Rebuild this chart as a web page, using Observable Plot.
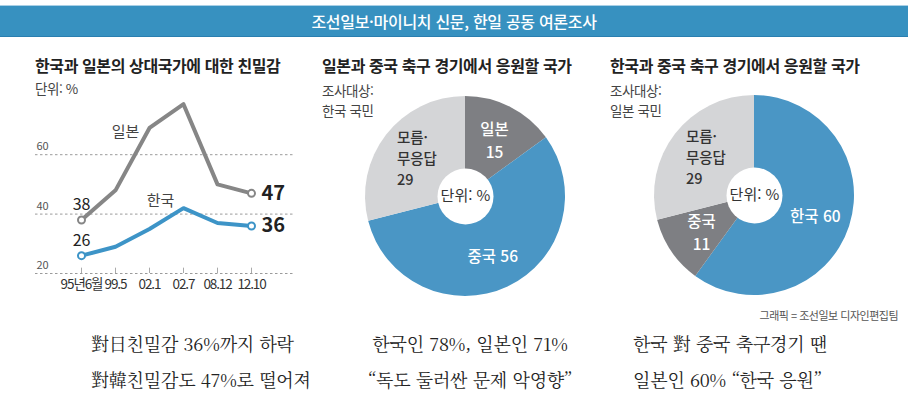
<!DOCTYPE html>
<html lang="ko">
<head>
<meta charset="utf-8">
<script src="https://cdn.jsdelivr.net/npm/d3@7"></script>
<script src="https://cdn.jsdelivr.net/npm/@observablehq/plot@0.6"></script>
<style>
  html, body { margin: 0; padding: 0; background: #fff; }
  body { font-family: "Noto Sans CJK KR", "Noto Sans", sans-serif; color: #222; }
  #root { position: relative; width: 910px; height: 399px; overflow: hidden; }
  .abs { position: absolute; white-space: nowrap; }
  .header { left: 0; top: 5px; width: 908px; height: 30px; background: #3791c0;
            border-top: 1px solid #a9d0e6; border-bottom: 1px solid #2a7fb0;
            color: #fff; font-size: 16px; font-weight: 500; letter-spacing: -0.3px;
            text-align: center; line-height: 30px; }
  .title { font-size: 16px; font-weight: 700; letter-spacing: -0.4px; color: #222; }
  .sub { font-size: 13.5px; color: #444; letter-spacing: -0.4px; line-height: 19.5px; }
  .credit { font-size: 11px; color: #555; letter-spacing: -0.5px; }
  .cap { font-family: "Noto Serif CJK KR", "Noto Sans CJK KR", serif; font-size: 18px; color: #222;
         letter-spacing: -0.2px; line-height: 36px; }
  svg { overflow: visible; }
</style>
</head>
<body>
<div id="root">
  <div class="abs header" id="header"></div>
  <div class="abs title" style="left:35px; top:53px;" id="t1"></div>
  <div class="abs sub" style="left:35px; top:79px;">단위: %</div>
  <div class="abs title" style="left:322px; top:53px;" id="t2"></div>
  <div class="abs sub" style="left:322px; top:81px;">조사대상:<br>한국 국민</div>
  <div class="abs title" style="left:610px; top:53px;" id="t3"></div>
  <div class="abs sub" style="left:610px; top:81px;">조사대상:<br>일본 국민</div>
  <div class="abs" id="line" style="left:0; top:0;"></div>
  <div class="abs" id="pie1" style="left:365px; top:96px;"></div>
  <div class="abs" id="pie2" style="left:654px; top:95px;"></div>
  <div class="abs credit" style="right:12px; top:307px;">그래픽 = 조선일보 디자인편집팀</div>
  <div class="abs cap" style="left:91px; top:325px;" id="c1"></div>
  <div class="abs cap" style="left:350px; width:240px; text-align:center; top:325px;" id="c2"></div>
  <div class="abs cap" style="left:633px; top:325px;" id="c3"></div>
</div>
<script>
// ---------- texts ----------
const headerText = "조선일보·마이니치 신문, 한일 공동 여론조사";
const titles = ["한국과 일본의 상대국가에 대한 친밀감", "일본과 중국 축구 경기에서 응원할 국가", "한국과 중국 축구 경기에서 응원할 국가"];
const captions = [
  ["對日친밀감 36%까지 하락", "對韓친밀감도 47%로 떨어져"],
  ["한국인 78%, 일본인 71%", "“독도 둘러싼 문제 악영향”"],
  ["한국 對 중국 축구경기 땐", "일본인 60% “한국 응원”"]
];

// ---------- line chart data ----------
const dates = ["95년6월", "99.5", "02.1", "02.7", "08.12", "12.10"];
const seriesNames = ["일본", "한국"];
const japanValues = [38, 48, 69, 77, 50, 47];
const koreaValues = [26, 29, 35, 42, 37, 36];
const yTicks = [20, 40, 60];

// ---------- pie data ----------
const pie1Categories = ["일본", "중국", "모름·무응답"];
const pie1Values = [15, 56, 29];
const pie2Categories = ["한국", "중국", "모름·무응답"];
const pie2Values = [60, 11, 29];
const unitLabel = "단위: %";

// ---------- fill texts ----------
document.getElementById("header").textContent = headerText;
["t1", "t2", "t3"].forEach((id, i) => document.getElementById(id).textContent = titles[i]);
["c1", "c2", "c3"].forEach((id, i) => document.getElementById(id).innerHTML = captions[i].join("<br>"));

const FONT = "'Noto Sans CJK KR', sans-serif";
const GRAY = "#868686", BLUE = "#3d94c7";

// ---------- line chart ----------
const table = dates.flatMap((d, i) => [
  {date: d, country: seriesNames[0], value: japanValues[i]},
  {date: d, country: seriesNames[1], value: koreaValues[i]}
]);
const firsts = table.filter(d => d.date === dates[0]);
const lasts = table.filter(d => d.date === dates[dates.length - 1]);
const ends = firsts.concat(lasts);
const seriesLabelAnchor = {"일본": {date: "02.1", dx: -24, dy: 0}, "한국": {date: "02.7", dx: -23, dy: -11}};
const seriesLabels = seriesNames.map(n => {
  const a = seriesLabelAnchor[n];
  return table.find(d => d.country === n && d.date === a.date);
});

const line = Plot.plot({
  width: 310, height: 300,
  marginLeft: 35, marginRight: 15, marginTop: 0, marginBottom: 27,
  style: {fontFamily: FONT, background: "transparent", overflow: "visible"},
  x: {type: "point", domain: dates, range: [63, 269], tickSize: 0, tickPadding: 6, label: null},
  y: {domain: [20, 80], range: [273, 94.8], axis: null},
  color: {domain: seriesNames, range: [GRAY, BLUE]},
  marks: [
    Plot.ruleY(yTicks, {stroke: "#9a9a9a", strokeDasharray: "2.5,2.5", strokeWidth: 1}),
    Plot.text(yTicks, {y: d => d, frameAnchor: "left", textAnchor: "start", dx: 1, dy: -8,
      text: d => String(d), fontSize: 11, fill: "#555"}),
    Plot.ruleX(dates, {x: d => d, y1: 20, y2: 21.8, stroke: "#aaa", strokeWidth: 1}),
    Plot.line(table, {x: "date", y: "value", z: "country", stroke: "country", strokeWidth: 4, strokeLinejoin: "round", strokeLinecap: "round"}),
    Plot.dot(ends, {x: "date", y: "value", stroke: "country", fill: "white", r: 3.5, strokeWidth: 2}),
    Plot.text(firsts, {x: "date", y: "value", text: d => String(d.value), dy: -15, fontSize: 16, fill: "#222"}),
    Plot.text(lasts, {x: "date", y: "value", text: d => String(d.value), dx: 10, textAnchor: "start",
      fontSize: 20, fontWeight: "bold", fill: "#222"}),
    Plot.text(seriesLabels, {x: "date", y: "value", text: "country", fontSize: 15, fill: "#444"}),
  ]
});
document.getElementById("line").appendChild(line);
// per-label offsets for series names (anchored at data points)
{
  const g = line.querySelectorAll("g[aria-label='text']");
  const last = g[g.length - 1];
  if (last) {
    last.querySelectorAll("text").forEach((t, i) => {
      const a = seriesLabelAnchor[seriesNames[i]];
      t.setAttribute("dx", a.dx);
      t.setAttribute("dy", (a.dy) + "px");
      t.style.dominantBaseline = "middle";
    });
  }
}
// tick label styling
line.querySelectorAll("g[aria-label='x-axis tick label'] text, g[aria-label='x-axis'] text").forEach(t => {
  t.setAttribute("font-size", 13.5);
  t.setAttribute("fill", "#333");
  t.style.letterSpacing = "-1.1px";
});

// ---------- pies ----------
function donut(categories, values, colors, textColors, stacked) {
  const arcs = d3.pie().sort(null).value(d => d)(values);
  const rad = 0.64;
  const labels = categories.map((c, i) => {
    const a = (arcs[i].startAngle + arcs[i].endAngle) / 2;
    const name = c.replace("·", "·\n");
    return {
      x: Math.sin(a) * rad, y: Math.cos(a) * rad,
      text: stacked[i] ? name + "\n" + values[i] : name + " " + values[i],
      color: textColors[i], start: c.includes("·")
    };
  });
  const slices = (index, scales) => {
    const sx = scales.x, sy = scales.y;
    const cx = sx(0), cy = sy(0);
    const r = Math.abs(sx(1) - sx(0));
    const arc = d3.arc().innerRadius(0).outerRadius(r);
    const g = d3.create("svg:g").attr("transform", `translate(${cx},${cy})`);
    g.selectAll("path").data(arcs).join("path").attr("d", arc).attr("fill", (d, i) => colors[i]);
    return g.node();
  };
  return Plot.plot({
    width: 200, height: 200, margin: 0,
    style: {fontFamily: FONT, background: "transparent", overflow: "visible"},
    x: {domain: [-1, 1], axis: null},
    y: {domain: [-1, 1], axis: null},
    marks: [
      slices,
      Plot.dot([0], {x: 0, y: 0, r: 28, fill: "white"}),
      Plot.text([unitLabel], {x: 0, y: 0, text: d => d, fontSize: 15, fill: "#333"}),
      Plot.text(labels.filter(d => !d.start), {x: "x", y: "y", text: "text", fill: "color", fontSize: 15.5, fontWeight: 500, lineHeight: 1.45}),
      Plot.text(labels.filter(d => d.start), {x: "x", y: "y", text: "text", fill: "color", fontSize: 14.5, fontWeight: 500, lineHeight: 1.45, textAnchor: "start", dx: -18})
    ]
  });
}
const DARK = "#7e7f83", PBLUE = "#4a96c5", LIGHT = "#d4d5d7";
document.getElementById("pie1").appendChild(
  donut(pie1Categories, pie1Values, [DARK, PBLUE, LIGHT], ["#fff", "#fff", "#333"], [true, false, true]));
document.getElementById("pie2").appendChild(
  donut(pie2Categories, pie2Values, [PBLUE, DARK, LIGHT], ["#fff", "#fff", "#333"], [false, true, true]));
</script>
</body>
</html>
